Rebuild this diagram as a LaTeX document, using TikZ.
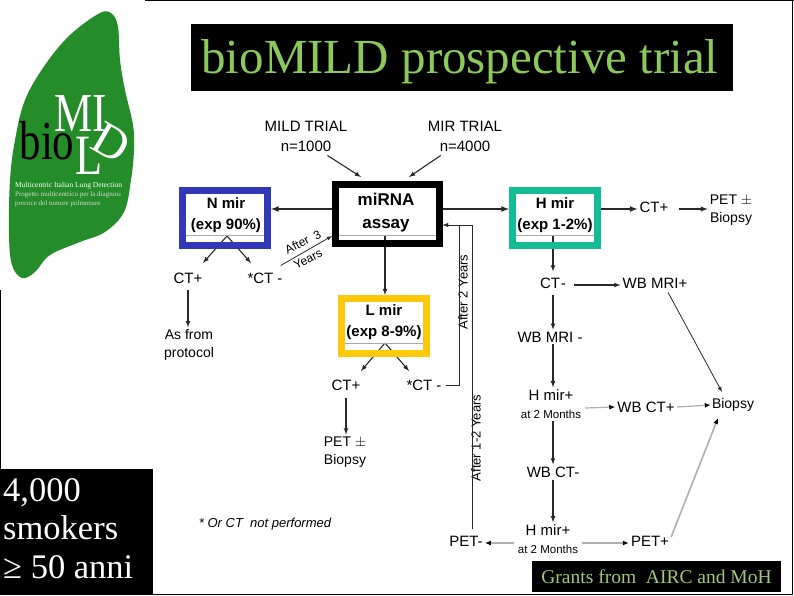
\documentclass[tikz,border=0pt]{standalone}
\usepackage{fontspec}
\setmainfont{Liberation Sans}
\newfontfamily\serifface{Liberation Serif}
\usetikzlibrary{positioning}
\usetikzlibrary{arrows.meta}
\usetikzlibrary{backgrounds}
\definecolor{nblue}{RGB}{48,56,184}
\definecolor{hteal}{RGB}{20,188,150}
\definecolor{lyellow}{RGB}{255,200,10}
\definecolor{lunggreen}{RGB}{36,140,40}
\definecolor{titlegreen}{RGB}{140,200,90}
\definecolor{grantgreen}{RGB}{160,200,120}
\definecolor{rulegray}{RGB}{170,170,170}
\definecolor{arrdark}{RGB}{40,40,40}
\definecolor{arrpale}{RGB}{175,175,175}

\begin{document}
\begin{tikzpicture}[x=1pt,y=-1pt,
        mirbox/.style={rectangle,line width=7pt,minimum width=85pt,minimum height=55pt,inner sep=0pt},
        boxtext/.style={font=\bfseries\fontsize{15}{21}\selectfont,align=center,inner sep=0pt},
        lab/.style={font=\fontsize{15}{20}\selectfont,align=center,inner sep=2pt},
        smalllab/.style={font=\fontsize{14}{18}\selectfont,align=center,inner sep=2pt},
        blackbox/.style={fill=black,rectangle,inner sep=0pt},
        logotext/.style={text=white,inner sep=0pt,xscale=0.78,transform shape},
        arr/.style={line width=1.1pt,draw=arrdark,-latex},
        arrthin/.style={line width=0.8pt,draw=arrdark,-latex},
        arrpale/.style={line width=1.6pt,draw=arrpale,-{Latex[black,length=6pt,width=5pt]}},
        rulegray/.style={line width=0.7pt,draw=rulegray}
        ]
        \useasboundingbox (0,0) rectangle (794,595);
        % logo
        \fill[lunggreen] plot[smooth cycle,tension=0.6] coordinates {(100,13) (112,14) (118,27) (120,60) (125,90) (133,125)
            (134,150) (131,180) (124,212) (105,232) (80,242) (50,255) (35,272) (22,278) (12,265) (9,235) (10,180) (15,140) (25,100) (45,65) (70,35)};
        \node (logomi) [logotext,font=\serifface\fontsize{55}{55}\selectfont] at (81,113) {MI};
        \node (logobio) [logotext,text=black,font=\serifface\fontsize{55}{55}\selectfont] at (47,141) {bio};
        \node (logol) [logotext,font=\serifface\fontsize{57}{57}\selectfont] at (89,156) {L};
        \node (logod) [text=white,inner sep=0pt,font=\serifface\fontsize{48}{48}\selectfont,rotate=-30] at (111,143) {D};
        \node (logo1) [text=white,font=\serifface\fontsize{7.5}{7.5}\selectfont,inner sep=0pt,anchor=west] at (15,186) {Multicentric Italian Lung Detection};
        \node (logo2) [text=white!85!black,font=\serifface\fontsize{7}{7}\selectfont,inner sep=0pt,anchor=west] at (15,195) {Progetto multicentrico per la diagnosi};
        \node (logo3) [text=white!85!black,font=\serifface\fontsize{7}{7}\selectfont,inner sep=0pt,anchor=west] at (15,204) {precoce del tumore polmonare};
        % black captions
        \node (title) [blackbox,minimum width=542pt,minimum height=67pt] at (462,57.5) {};
        \node (titletext) [inner sep=0pt,text=titlegreen,font=\serifface\fontsize{49}{49}\selectfont] at (460,62) {bioMILD prospective trial};
        \node (smokers) [blackbox,minimum width=153pt,minimum height=126pt] at (76.5,532) {};
        \node (smokertext) [inner sep=0pt,anchor=north west,text=white,font=\serifface\fontsize{34.5}{38.5}\selectfont,align=left] at (3,478) {4,000\\smokers\\≥ 50 anni};
        \node (grants) [blackbox,minimum width=249pt,minimum height=31pt,text=grantgreen,font=\serifface\fontsize{19.5}{19.5}\selectfont] at (656.5,576.5) {Grants from\ \ AIRC and MoH};
        % boxes
        \node (nmir) [mirbox,draw=nblue] at (225,218) {};
        \node (mirna) [mirbox,draw=black,minimum width=104pt,minimum height=59pt] at (387.5,214) {};
        \node (hmir) [mirbox,draw=hteal] at (555,218) {};
        \node (lmir) [mirbox,draw=lyellow] at (384,326) {};
        \node (ntext) [boxtext] at (226,215) {N mir\\(exp 90\%)};
        \node (mtext) [boxtext,font=\bfseries\fontsize{17}{23}\selectfont] at (386,213) {miRNA\\assay};
        \node (htext) [boxtext] at (555,215) {H mir\\(exp 1-2\%)};
        \node (ltext) [boxtext] at (384,322) {L mir\\(exp 8-9\%)};
        \draw[rulegray] (186,235.5) -- (264,235.5);
        \draw[rulegray] (339,235.5) -- (436,235.5);
        \draw[rulegray] (516,235.5) -- (594,235.5);
        \draw[rulegray] (345,343.5) -- (423,343.5);
        % labels
        \node (mild) [lab] at (306,136) {MILD TRIAL\\n=1000};
        \node (mir) [lab] at (465,136) {MIR TRIAL\\n=4000};
        \node (ctn) [lab] at (188,278) {CT+};
        \node (ctnm) [lab] at (265,278) {*CT -};
        \node (proto) [smalllab] at (189,345) {As from\\protocol};
        \node (ctl) [lab] at (346,385) {CT+};
        \node (ctlm) [lab] at (424,385) {*CT -};
        \node (petl) [smalllab] at (345,452) {PET $\pm$\\Biopsy};
        \node (cth) [lab] at (654,207) {CT+};
        \node (peth) [smalllab] at (731,210) {PET $\pm$\\Biopsy};
        \node (cthm) [lab] at (553,283) {CT\kern1pt-};
        \node (mrip) [lab] at (655,283) {WB MRI+};
        \node (mrim) [lab] at (550,337) {WB MRI -};
        \node (hmiro) [lab] at (551,404) {H mir+\\[-2pt]{\fontsize{11.5}{14}\selectfont at 2 Months}};
        \node (ctp) [lab] at (646,407) {WB CT+};
        \node (bio) [smalllab,inner sep=1pt] at (733,405) {Biopsy};
        \node (ctm) [lab] at (553,472) {WB CT-};
        \node (hmirt) [lab] at (548,539) {H mir+\\[-2pt]{\fontsize{11.5}{14}\selectfont at 2 Months}};
        \node (petm) [lab] at (466,541) {PET-};
        \node (petp) [lab] at (650,541) {PET+};
        \node (note) [font=\itshape\fontsize{13}{13}\selectfont,inner sep=0pt] at (265,524) {* Or CT\ \ not performed};
        \node (yearsa) [font=\fontsize{12}{12}\selectfont,rotate=27,inner sep=0pt] at (303,242) {After\ \ 3};
        \node (yearsb) [font=\fontsize{12}{12}\selectfont,rotate=27,inner sep=0pt] at (308,259) {Years};
        \node (aftertwo) [font=\fontsize{13}{13}\selectfont,rotate=90,inner sep=0pt] at (463,292) {After 2 Years};
        \node (afterone) [font=\fontsize{13}{13}\selectfont,rotate=90,inner sep=0pt] at (476,438) {After 1-2 Years};
        % forks and ports
        \coordinate (nfork) at (227,236);
        \coordinate (lfork) at (385,343);
        \coordinate (mfork) at (385,236);
        \coordinate (hfork) at (553,236);
        \coordinate (ntipa) at (203,263);
        \coordinate (ntipb) at (251,263);
        \coordinate (ltipa) at (361,371);
        \coordinate (ltipb) at (409,371);
        \coordinate (portm) at (443,225);
        \coordinate (portn) at (332,236);
        \coordinate (topa) at (472,225);
        \coordinate (topb) at (459,225);
        \coordinate (rowy) at (0,209);
        \coordinate (biotop) at (722,392);
        \coordinate (biobot) at (718,418);
        \begin{scope}[on background layer]
        \fill[white] (0,0) rectangle (794,595);
        \draw[line width=1pt] (145,0.5) -- (794,0.5);
        \draw[line width=1.2pt] (153,594.4) -- (792.5,594.4) -- (792.5,0.5);
        \draw[line width=1pt] (0.5,290) -- (0.5,469);
        \draw[arr] (nfork) -- (ntipa);
        \draw[arr] (nfork) -- (ntipb);
        \draw[arr] (lfork) -- (ltipa);
        \draw[arr] (lfork) -- (ltipb);
        \draw[arr] (mfork) -- (lmir.north -| mfork);
        \draw[arr,shorten >=4pt] (hfork) -- (cthm);
        \end{scope}
        % connectors
        \draw[arr] (mild.south east) ++(-22,2) -- (361,177);
        \draw[arr] (mir.south west) ++(15,2) -- (409,177);
        \draw[arr,line width=1.6pt] (mirna.west |- rowy) -- (nmir.east |- rowy);
        \draw[arr,line width=1.6pt] (mirna.east |- rowy) -- (hmir.west |- rowy);
        \draw[arr,line width=1.6pt] (hmir.east |- rowy) -- (cth.west |- rowy);
        \draw[arr,line width=1.3pt] (cth.east |- rowy) ++(8,0) -- (peth.west |- rowy);
        \draw[arr] (ctn) ++(0,12) -- (proto.north -| ctn);
        \draw[arr] (ctl) ++(0,13) -- (petl.north -| ctl);
        \draw[arrthin] (ctnm.north east) ++(-4,-5) -- (portn);
        \draw[arrthin] (ctlm.east) ++(2,0) -| (topb) -- (portm);
        \draw[arrthin] (petm.north -| topa) ++(0,-5) -- (topa) -- (portm);
        \draw[arr] (cthm.east) ++(6,2) -- (mrip.west |- 0,285);
        \draw[arr] (cthm) ++(0,12) -- (mrim.north -| cthm);
        \draw[arr] (mrim.south -| cthm) -- (hmiro.north -| cthm);
        \draw[arr] (hmiro.south -| cthm) -- (ctm.north -| cthm);
        \draw[arr] (ctm.south -| cthm) -- (hmirt.north -| cthm);
        \draw[arrthin] (mrip.south) ++(13,2) -- (biotop);
        \draw[arrpale,line width=1.2pt] (hmiro.east) ++(2,4) -- (ctp.west);
        \draw[arrpale,line width=1.2pt] (ctp.east) -- (bio.west);
        \draw[arrpale] (hmirt.west) ++(-2,4) -- (petm.east |- 0,543);
        \draw[arrpale] (hmirt.east) ++(2,4) -- (petp.west |- 0,543);
        \draw[arrpale] (petp.east) ++(0,-4) -- (biobot);
    \end{tikzpicture}
\end{document}
